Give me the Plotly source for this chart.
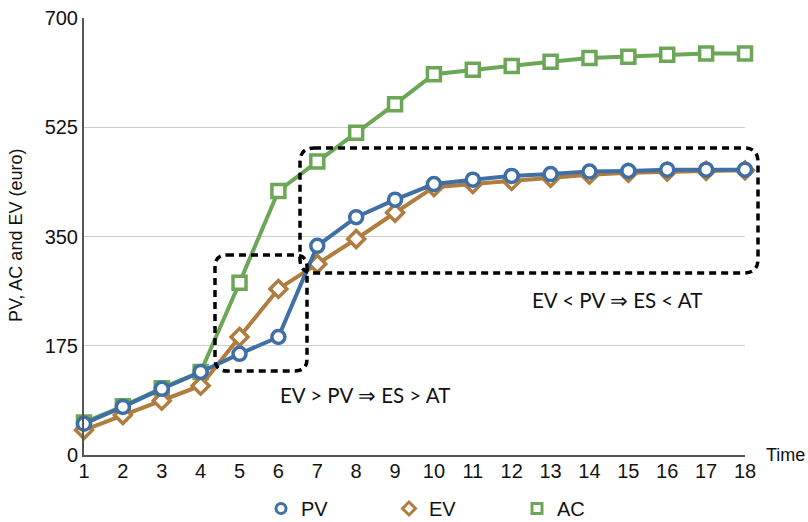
import plotly.graph_objects as go

time = list(range(1, 19))
pv = [50, 77, 106, 133, 162, 189, 335, 381, 409, 434, 441, 447, 450, 454, 455, 457, 457, 457]
ev = [40, 64, 87, 111, 189, 266, 306, 346, 388, 429, 434, 439, 444, 449, 452, 454, 455, 456]
ac = [52, 78, 107, 133, 276, 423, 470, 516, 562, 610, 617, 623, 630, 636, 638, 641, 643, 643]
y_ticks = [0, 175, 350, 525, 700]

C_PV = "#3F6FA4"
C_EV = "#B07D3E"
C_AC = "#6BA756"

# plot area in pixels
L, R, T, B = 84, 745, 18, 455
W, H = 808, 522


def px2paper(x, y):
    return (x - L) / (R - L), (B - y) / (B - T)


def rounded_rect(x0, y0, x1, y1, r):
    def P(x, y):
        a, b = px2paper(x, y)
        return f"{a:.5f},{b:.5f}"
    return (f"M {P(x0 + r, y0)} L {P(x1 - r, y0)} Q {P(x1, y0)} {P(x1, y0 + r)} "
            f"L {P(x1, y1 - r)} Q {P(x1, y1)} {P(x1 - r, y1)} "
            f"L {P(x0 + r, y1)} Q {P(x0, y1)} {P(x0, y1 - r)} "
            f"L {P(x0, y0 + r)} Q {P(x0, y0)} {P(x0 + r, y0)} Z")


fig = go.Figure()

series = [("AC", ac, C_AC, "square", 3), ("EV", ev, C_EV, "diamond", 2), ("PV", pv, C_PV, "circle", 1)]
for name, vals, col, sym, rank in series:
    fig.add_trace(go.Scatter(
        x=time, y=vals, mode="lines+markers", name=name, showlegend=False,
        line=dict(color=col, width=4),
        marker=dict(symbol=sym, size=13, color="white",
                    line=dict(color=col, width=3.5)),
        cliponaxis=False,
    ))
for name, vals, col, sym, rank in series:
    fig.add_trace(go.Scatter(
        x=[None], y=[None], mode="markers", name=name, legendrank=rank,
        marker=dict(symbol=sym, size=10, color="white",
                    line=dict(color=col, width=3)),
    ))

shapes = [
    dict(type="path", xref="paper", yref="paper", path=rounded_rect(215, 255, 307, 371, 12),
         line=dict(color="black", width=3.5, dash="7px,5px"), layer="above"),
    dict(type="path", xref="paper", yref="paper", path=rounded_rect(300, 148, 758, 273, 14),
         line=dict(color="black", width=3.5, dash="7px,5px"), layer="above"),
]

ann_font = dict(family="Lato, sans-serif", size=20.5, color="#111")


def ann(text, px, py, font, **kw):
    x, y = px2paper(px, py)
    return dict(text=text, x=x, y=y, xref="paper", yref="paper", showarrow=False,
                xanchor="center", yanchor="middle", font=font, **kw)


annotations = [
    ann("EV > PV ⇒ ES > AT", 365, 395, ann_font),
    ann("EV < PV ⇒ ES < AT", 617, 300, ann_font),
    ann("Time", 785, 455, dict(family="Liberation Sans, Arial", size=18, color="#111")),
    ann("PV, AC and EV (euro)", 16, 236, dict(family="Liberation Sans, Arial", size=18, color="#111"),
        textangle=-90),
]

fig.update_layout(
    width=W, height=H,
    margin=dict(l=L, r=W - R, t=T, b=H - B, autoexpand=False),
    plot_bgcolor="white", paper_bgcolor="white",
    font=dict(family="Liberation Sans, Arial", size=20, color="#111"),
    shapes=shapes, annotations=annotations,
    legend=dict(orientation="h", x=px2paper(261, 0)[0], y=px2paper(0, 489)[1],
                xanchor="left", yanchor="top", entrywidth=83, bgcolor="rgba(0,0,0,0)",
                font=dict(family="Liberation Sans, Arial", size=20, color="#111")),
    xaxis=dict(range=[1, 18], tickvals=time, showgrid=False, zeroline=False,
               showline=True, linecolor="#555", linewidth=2, ticks="", fixedrange=True,
               ticklabelstandoff=-3),
    yaxis=dict(range=[0, 700], tickvals=y_ticks, showgrid=True, gridcolor="#cccccc",
               gridwidth=1, zeroline=False, showline=True, linecolor="#555", linewidth=2,
               ticks="", fixedrange=True),
)

fig.write_html("out.html", config={"displayModeBar": False},
               post_script="document.body.style.margin='0px';document.body.style.overflow='hidden';")
